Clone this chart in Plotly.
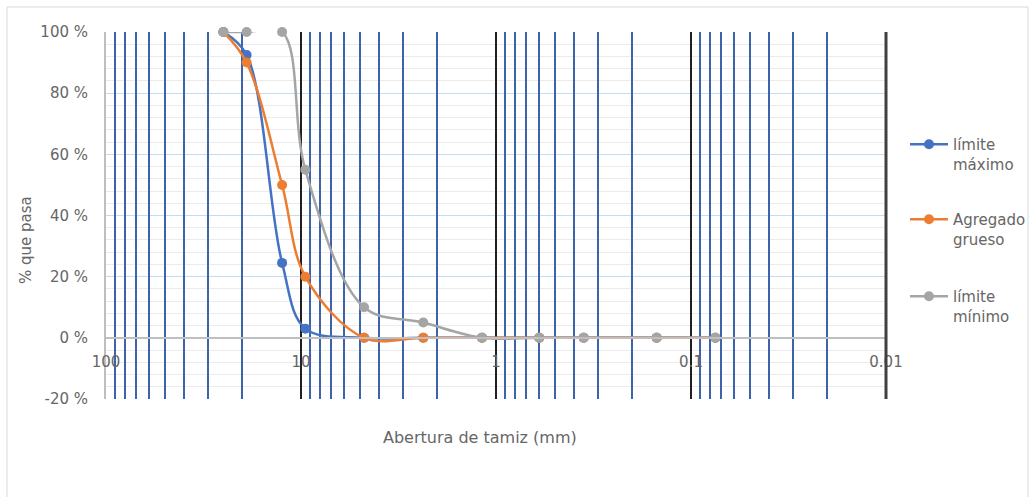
import plotly.graph_objects as go

# ---------------- data ----------------
sieve_mm = [25, 19, 12.5, 9.5, 4.75, 2.36, 1.18, 0.6, 0.355, 0.15, 0.075]
limite_maximo = [100, 92.5, 24.5, 3, 0, 0, 0, 0, 0, 0, 0]
agregado_grueso = [100, 90, 50, 20, 0, 0, 0, 0, 0, 0, 0]
limite_minimo = [100, 100, 100, 55, 10, 5, 0, 0, 0, 0, 0]

series_names = ["límite<br>máximo", "Agregado<br>grueso", "límite<br>mínimo"]
series_colors = ["#4472C4", "#ED7D31", "#A5A5A5"]

x_major_ticks = [100, 10, 1, 0.1, 0.01]
x_major_text = ["100", "10", "1", "0.1", "0.01"]
x_minor_ticks = [m * 10.0 ** e for e in range(-2, 2) for m in range(2, 10)]
y_ticks = [-20, 0, 20, 40, 60, 80, 100]
y_tick_text = ["-20 %", "0 %", "20 %", "40 %", "60 %", "80 %", "100 %"]

# ---------------- layout geometry ----------------
W, H = 1035, 497
ML, MR, MT, MB = 106, 149, 32, 98
PW, PH = W - ML - MR, H - MT - MB


def px(x):
    """pixel x (from left) -> paper x"""
    return (x - ML) / PW


def py(y):
    """pixel y (from top) -> paper y"""
    return (H - MB - y) / PH


FONT = "DejaVu Sans"
TXT = "#666666"

fig = go.Figure()

# subplot 1 (x, y): holds only the horizontal grid + y labels
fig.add_trace(go.Scatter(x=[], y=[], xaxis="x", yaxis="y", showlegend=False,
                         hoverinfo="skip"))

# subplot 2 (x2, y2): vertical grid drawn above the horizontal one, and the data
all_y = [limite_maximo, agregado_grueso, limite_minimo]
for i, (name, ys, col) in enumerate(zip(series_names, all_y, series_colors)):
    fig.add_trace(go.Scatter(
        x=sieve_mm, y=ys, name=name, mode="lines+markers",
        xaxis="x2", yaxis="y2",
        line=dict(color=col, width=2.5, shape="spline", smoothing=1),
        marker=dict(color=col, size=10),
        cliponaxis=False,
        legend="legend" if i == 0 else f"legend{i + 1}",
    ))

fig.update_layout(
    width=W, height=H,
    margin=dict(l=ML, r=MR, t=MT, b=MB, autoexpand=False),
    paper_bgcolor="white", plot_bgcolor="rgba(0,0,0,0)",
    font=dict(family=FONT, size=15, color=TXT),
    showlegend=True,
)

fig.update_layout(
    xaxis=dict(
        type="log", range=[2, -2], domain=[0, 1], anchor="y",
        showgrid=False, showticklabels=False, showline=False, ticks="",
        zeroline=False,
    ),
    yaxis=dict(
        range=[-20, 100], domain=[0, 1], anchor="x",
        tickmode="array", tickvals=y_ticks, ticktext=y_tick_text,
        showgrid=True, gridcolor="#C5DCF0", gridwidth=1,
        minor=dict(dtick=4, showgrid=True, gridcolor="#EBEBEB", gridwidth=1, ticks=""),
        showline=True, linecolor="#BFBFBF", linewidth=2,
        zeroline=False, ticks="", ticklabelstandoff=13,
        tickfont=dict(family=FONT, size=15, color=TXT),
    ),
    xaxis2=dict(
        type="log", range=[2, -2], domain=[0, 1],
        anchor="free", position=20 / 120,
        tickmode="array", tickvals=x_major_ticks, ticktext=x_major_text,
        showgrid=True, gridcolor="#1f1f1f", gridwidth=2,
        minor=dict(tickmode="array", tickvals=x_minor_ticks, showgrid=True,
                   gridcolor="#3D63AD", gridwidth=2, ticks=""),
        showline=True, linecolor="#BFBFBF", linewidth=1.5,
        ticks="", ticklabelstandoff=10,
        tickfont=dict(family=FONT, size=15, color=TXT),
        zeroline=False,
    ),
    yaxis2=dict(
        range=[-20, 100], domain=[0, 1], anchor="x2",
        showline=False, showgrid=False, showticklabels=False, ticks="",
        zeroline=False,
    ),
)

legend_style = dict(
    x=px(905), xanchor="left", yanchor="top",
    bgcolor="rgba(0,0,0,0)", font=dict(family=FONT, size=15, color=TXT),
    valign="top", itemwidth=38,
)
fig.update_layout(
    legend=dict(y=py(128), **legend_style),
    legend2=dict(y=py(203), **legend_style),
    legend3=dict(y=py(280), **legend_style),
)

# titles
fig.add_annotation(
    text="Abertura de tamiz (mm)", xref="paper", yref="paper",
    x=px(480), y=py(438), showarrow=False,
    font=dict(family=FONT, size=16, color=TXT), xanchor="center", yanchor="middle",
)
fig.add_annotation(
    text="% que pasa", xref="paper", yref="paper",
    x=px(26), y=py(240), showarrow=False, textangle=-90,
    font=dict(family=FONT, size=15, color=TXT), xanchor="center", yanchor="middle",
)

# right border of the plot area (dark) and chart-area border
fig.add_shape(
    type="line", xref="paper", yref="paper", x0=1, x1=1, y0=0, y1=1,
    line=dict(color="#404040", width=3), layer="above",
)
fig.add_shape(
    type="rect", xref="paper", yref="paper",
    x0=px(7), x1=px(1028), y0=py(505), y1=py(7),
    line=dict(color="#D9D9D9", width=1), fillcolor="rgba(0,0,0,0)", layer="below",
)

fig.write_html("out.html")
